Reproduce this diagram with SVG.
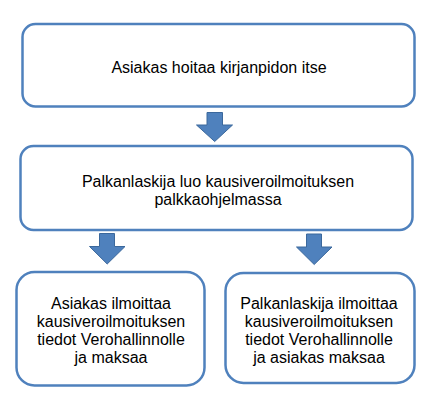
<svg xmlns="http://www.w3.org/2000/svg" width="441" height="400" viewBox="0 0 441 400">
<style>
.box{fill:#fff;stroke:#4F81BD;stroke-width:2.5}
.arr{fill:#4F81BD;stroke:#3B689C;stroke-width:1}
text{font-family:"Liberation Sans",Arial,sans-serif;font-size:16px;fill:#000;text-anchor:middle}
</style>
<rect width="441" height="400" fill="#fff"/>
<g id="connectors">
<path class="arr" d="M207,112.5 H222.5 V125 H232.5 L214.7,141.5 L196.5,125 H207 Z"/>
<path class="arr" d="M99.5,233.5 H114.5 V246.5 H125 L107.2,264 L89.5,246.5 H99.5 Z"/>
<path class="arr" d="M306.5,234 H321.5 V247 H332 L314.2,264.5 L296.5,247 H306.5 Z"/>
</g>
<g id="n1">
<rect class="box" x="22.5" y="24" width="392" height="82.5" rx="13"/>
<text x="219" y="72.5">Asiakas hoitaa kirjanpidon itse</text>
</g>
<g id="n2">
<rect class="box" x="20.5" y="146" width="392" height="84" rx="13"/>
<text x="218" y="186.5">Palkanlaskija luo kausiveroilmoituksen</text>
<text x="218" y="204.5">palkkaohjelmassa</text>
</g>
<g id="n3">
<rect class="box" x="16.5" y="272" width="188" height="113.5" rx="18"/>
<text x="111" y="309">Asiakas ilmoittaa</text>
<text x="111" y="327">kausiveroilmoituksen</text>
<text x="111" y="345">tiedot Verohallinnolle</text>
<text x="111" y="363">ja maksaa</text>
</g>
<g id="n4">
<rect class="box" x="225.5" y="273" width="189" height="110" rx="18"/>
<text x="319" y="309">Palkanlaskija ilmoittaa</text>
<text x="319" y="327">kausiveroilmoituksen</text>
<text x="319" y="345">tiedot Verohallinnolle</text>
<text x="319" y="363">ja asiakas maksaa</text>
</g>
</svg>
